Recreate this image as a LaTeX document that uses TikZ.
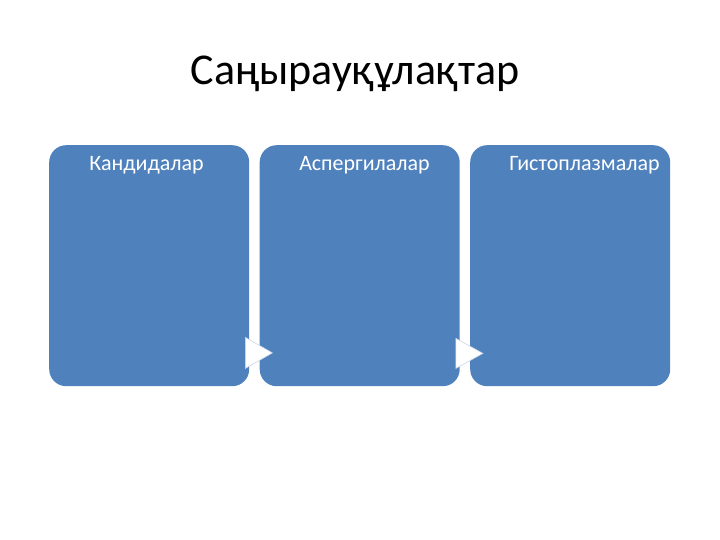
\documentclass[tikz,border=0pt]{standalone}
\usepackage{fontspec}
\setmainfont{Carlito}
\usetikzlibrary{calc}
\definecolor{boxblue}{HTML}{4F81BD}
\definecolor{triedge}{HTML}{C9D6EA}
\begin{document}
\begin{tikzpicture}[x=1bp,y=-1bp,
  block/.style={draw=none,fill=boxblue,rounded corners=17bp,minimum width=200bp,minimum height=241bp,anchor=north west,inner sep=0pt},
  blocklabel/.style={text=white,font=\fontsize{22bp}{26bp}\selectfont,anchor=base,inner sep=0pt},
  tri/.style={fill=white,draw=triedge,line width=0.6bp,line join=miter}]
\useasboundingbox (0,0) rectangle (720,540);
\node[font=\fontsize{44bp}{50bp}\selectfont,anchor=base,inner sep=0pt] (title) at (355,85) {Саңырауқұлақтар};
\node[block] (b1) at (49,145) {};
\node[block] (b2) at (259.5,145) {};
\node[block] (b3) at (470,145) {};
\node[blocklabel] (l1) at (146.5,171) {Кандидалар};
\node[blocklabel] (l2) at (364.5,171) {Аспергилалар};
\node[blocklabel] (l3) at (584.5,171) {Гистоплазмалар};
\draw[tri] ($(b1.south east)+(-4,-49)$) coordinate (t1a) -- ($(b1.south east)+(23,-33.5)$) coordinate (t1b) -- ($(b1.south east)+(-4,-18)$) coordinate (t1c) -- cycle;
\draw[tri] ($(b2.south east)+(-4,-48)$) coordinate (t2a) -- ($(b2.south east)+(23,-33)$) coordinate (t2b) -- ($(b2.south east)+(-4,-18)$) coordinate (t2c) -- cycle;
\end{tikzpicture}
\end{document}
